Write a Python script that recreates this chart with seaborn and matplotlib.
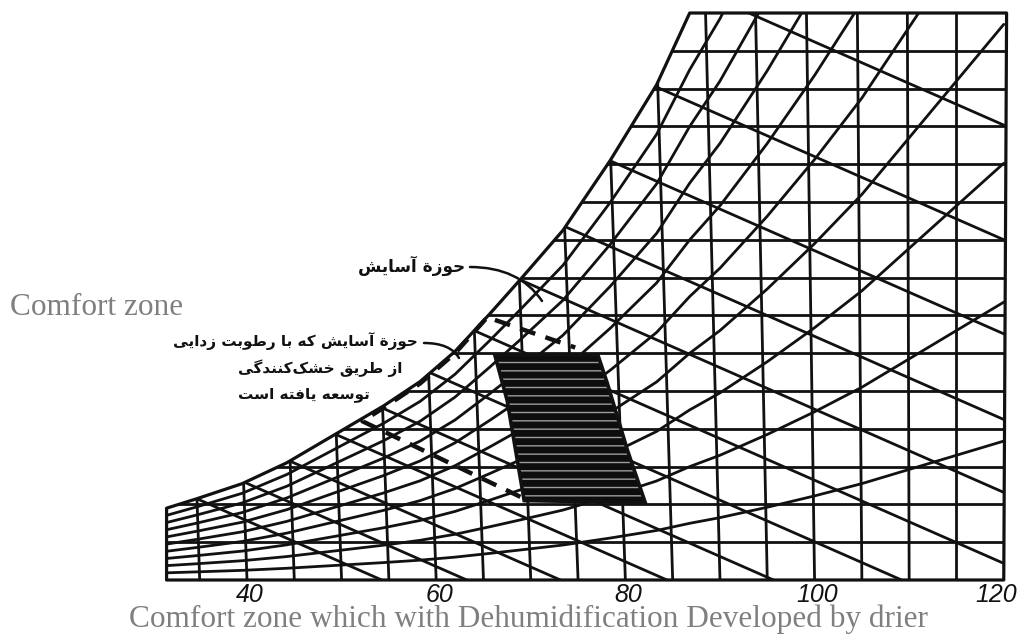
"""Psychrometric chart with the comfort zone and the zone widened by a desiccant drier."""

import matplotlib

matplotlib.use("Agg")

import matplotlib.pyplot as plt
import pandas as pd
import seaborn as sns
from matplotlib.patches import Polygon

# saturation curve (dry bulb F, humidity ratio lb/lb);
# the points past 87 F lie above the top edge and only feed the RH curves
SAT_TEMP = [31.5, 34.7, 39.5, 44.2, 49.3, 54.4, 58.3, 62.0, 65.7, 68.9, 73.4,
            78.4, 83.3, 86.8, 90.0, 95.0, 100.0, 105.0, 110.0, 115.0, 120.0]
SAT_HUM = [0.0038, 0.0043, 0.0051, 0.0062, 0.0077, 0.0092, 0.0105, 0.0121, 0.0141,
           0.0159, 0.0185, 0.0222, 0.0262, 0.0300, 0.0330, 0.0385, 0.0445, 0.0510,
           0.0585, 0.0660, 0.0735]
RH_LEVELS = [0.1, 0.2, 0.3, 0.4, 0.5, 0.6, 0.7, 0.8, 0.9]

# dry bulb lines and how far each one leans (F) at the top edge
DRYBULB_TEMPS = [35, 40, 45, 50, 55, 60, 65, 70, 75, 80, 85, 90, 95, 100, 105, 110, 115]
DRYBULB_LEAN = [-2.1, -2.2, -2.2, -2.3, -2.3, -2.3, -2.3, -2.4, -2.4, -2.2, -1.9, -1.6,
                -1.3, -0.9, -0.5, -0.2, 0.0]
HUMIDITY_LINES = [0.002, 0.004, 0.006, 0.008, 0.010, 0.012, 0.014, 0.016, 0.018,
                  0.020, 0.022, 0.024, 0.026, 0.028]
CHART_LEFT, CHART_RIGHT, CHART_TOP = 31.5, 120.0, 0.030
RIGHT_TOP_LEAN = 0.3

# wet bulb lines: where each leaves the saturation curve, and their common slope
WETBULB_START_T = [34.7, 39.6, 44.5, 49.4, 54.3, 59.2, 64.0, 68.8, 73.6, 78.3, 83.2, 88.5]
WETBULB_START_W = [0.0043, 0.0052, 0.0063, 0.0077, 0.0091, 0.0110, 0.0132, 0.0159,
                   0.0187, 0.0222, 0.0261, 0.0310]
WETBULB_SLOPE = -0.00022

# comfort zone (solid) and the zone extended by dehumidification (dashed)
COMFORT_T = [66.2, 77.1, 78.1, 80.2, 82.1, 69.3, 67.5]
COMFORT_W = [0.0119, 0.0119, 0.0104, 0.0069, 0.0041, 0.0042, 0.0095]
DRIER_T = [68.9, 52.2, 54.4, 58.3, 62.0, 65.4, 74.7]
DRIER_W = [0.0044, 0.0084, 0.0091, 0.0104, 0.0120, 0.0139, 0.0123]

TICK_TEMPS = [40, 60, 80, 100, 120]

FA_COMFORT = "حوزة آسایش"
FA_DRIER = ["حوزة آسایش که با رطوبت زدایی", "از طریق خشک\u200cکنندگی", "توسعه یافته است"]
EN_COMFORT = "Comfort zone"
EN_DRIER = "Comfort zone which with Dehumidification Developed by drier"

# Arabic presentation forms: isolated, final, initial, medial
FORMS = {
    "ا": ("\uFE8D", "\uFE8E", None, None),
    "آ": ("\uFE81", "\uFE82", None, None),
    "ب": ("\uFE8F", "\uFE90", "\uFE91", "\uFE92"),
    "ت": ("\uFE95", "\uFE96", "\uFE97", "\uFE98"),
    "ة": ("\uFE93", "\uFE94", None, None),
    "ح": ("\uFEA1", "\uFEA2", "\uFEA3", "\uFEA4"),
    "خ": ("\uFEA5", "\uFEA6", "\uFEA7", "\uFEA8"),
    "د": ("\uFEA9", "\uFEAA", None, None),
    "ر": ("\uFEAD", "\uFEAE", None, None),
    "ز": ("\uFEAF", "\uFEB0", None, None),
    "س": ("\uFEB1", "\uFEB2", "\uFEB3", "\uFEB4"),
    "ش": ("\uFEB5", "\uFEB6", "\uFEB7", "\uFEB8"),
    "ط": ("\uFEC1", "\uFEC2", "\uFEC3", "\uFEC4"),
    "ع": ("\uFEC9", "\uFECA", "\uFECB", "\uFECC"),
    "ف": ("\uFED1", "\uFED2", "\uFED3", "\uFED4"),
    "ق": ("\uFED5", "\uFED6", "\uFED7", "\uFED8"),
    "ن": ("\uFEE5", "\uFEE6", "\uFEE7", "\uFEE8"),
    "ه": ("\uFEE9", "\uFEEA", "\uFEEB", "\uFEEC"),
    "و": ("\uFEED", "\uFEEE", None, None),
    "ک": ("\uFB8E", "\uFB8F", "\uFB90", "\uFB91"),
    "گ": ("\uFB92", "\uFB93", "\uFB94", "\uFB95"),
    "ی": ("\uFBFC", "\uFBFD", "\uFBFE", "\uFBFF"),
}
RIGHT_JOINING = set("اآدذرزژوة")

W_PX, H_PX = 1024, 637
LINE_W = 2.0
INK = "#111111"


def shape_rtl(text: str) -> str:
    """Join Persian letters and put them in visual (left to right) order."""
    out = []
    for i, ch in enumerate(text):
        if ch == "\u200c":
            continue
        if ch not in FORMS:
            out.append(ch)
            continue
        prev = text[i - 1] if i > 0 else ""
        nxt = text[i + 1] if i + 1 < len(text) else ""
        joins_prev = prev in FORMS and prev not in RIGHT_JOINING
        joins_next = nxt in FORMS and ch not in RIGHT_JOINING
        iso, fin, ini, med = FORMS[ch]
        if joins_prev and joins_next:
            out.append(med)
        elif joins_prev:
            out.append(fin)
        elif joins_next:
            out.append(ini)
        else:
            out.append(iso)
    return "".join(reversed(out))


def fig_px(x: float, y: float) -> tuple[float, float]:
    """Image pixel (origin top left) to 'figure pixels' (origin bottom left)."""
    return x, H_PX - y


def draw_family(ax, frame: pd.DataFrame, clip) -> None:
    """Draw one family of chart lines with seaborn and clip it to the chart."""
    before = len(ax.lines)
    sns.lineplot(data=frame, x="temp", y="hum", units="line", estimator=None,
                 sort=False, color=INK, lw=LINE_W, ax=ax, legend=False)
    for line in ax.lines[before:]:
        line.set_clip_path(clip)
        line.set_solid_capstyle("round")


sns.set_theme(style="white")
plt.rcParams["hatch.linewidth"] = 1.0

fig = plt.figure(figsize=(W_PX / 100, H_PX / 100), dpi=100)
ax = fig.add_axes([0, 0, 1, 1])
ax.set_xlim(13.89, 122.14)
ax.set_ylim(-0.003016, 0.030688)
ax.set_axis_off()

# chart outline: saturation curve up to the top edge, then the box
visible = [(t, w) for t, w in zip(SAT_TEMP, SAT_HUM) if w <= CHART_TOP]
outline = ([(CHART_LEFT, 0.0)] + visible
           + [(CHART_RIGHT + RIGHT_TOP_LEAN, CHART_TOP), (CHART_RIGHT, 0.0)])
region = Polygon(outline, closed=True, fill=False, edgecolor=INK,
                 lw=LINE_W + 0.3, joinstyle="round", zorder=3)
ax.add_patch(region)

drybulb = pd.DataFrame(
    [{"line": i, "temp": t + k * lean, "hum": k * CHART_TOP * 1.05}
     for i, (t, lean) in enumerate(zip(DRYBULB_TEMPS, DRYBULB_LEAN)) for k in (0, 1)]
)
draw_family(ax, drybulb, region)

humidity = pd.DataFrame(
    [{"line": i, "temp": t, "hum": w}
     for i, w in enumerate(HUMIDITY_LINES) for t in (CHART_LEFT - 1, CHART_RIGHT + 1)]
)
draw_family(ax, humidity, region)

rh = pd.DataFrame(
    [{"line": i, "temp": t, "hum": level * w}
     for i, level in enumerate(RH_LEVELS) for t, w in zip(SAT_TEMP, SAT_HUM)]
)
draw_family(ax, rh, region)

wetbulb = pd.DataFrame(
    [{"line": i, "temp": t - k * w / WETBULB_SLOPE, "hum": w - k * w}
     for i, (t, w) in enumerate(zip(WETBULB_START_T, WETBULB_START_W)) for k in (0, 1)]
)
draw_family(ax, wetbulb, region)

# comfort zone: dark block with light streaks
comfort_xy = list(zip(COMFORT_T, COMFORT_W))
ax.add_patch(Polygon(comfort_xy, closed=True, facecolor="#0d0d0d", edgecolor="#9c9c9c",
                     hatch="--", lw=0, zorder=4))
ax.add_patch(Polygon(comfort_xy, closed=True, fill=False, edgecolor=INK,
                     lw=2.6, zorder=5))

# comfort zone reached with the drier
ax.plot(DRIER_T, DRIER_W, color=INK, lw=3.2, ls=(0, (3.6, 2.4)),
        solid_capstyle="butt", zorder=5)

for t in TICK_TEMPS:
    last = t == TICK_TEMPS[-1]
    ax.text(t + (1.4 if last else 0.3), 0.066, str(t), transform=ax.get_xaxis_transform(),
            ha="right" if last else "center", va="center", fontsize=18, style="italic",
            family="Liberation Sans", color=INK)

fa_style = dict(xycoords="figure pixels", fontweight="bold", family="DejaVu Sans",
                color=INK, va="center", ha="right")
ax.annotate(shape_rtl(FA_COMFORT), xy=fig_px(465, 266), fontsize=12.2, **fa_style)
for text, (x, y) in zip(FA_DRIER, [(418, 341), (402, 368), (370, 395)]):
    ax.annotate(shape_rtl(text), xy=fig_px(x, y), fontsize=11, **fa_style)

leader = dict(arrowstyle="-", color=INK, lw=1.8, shrinkA=0, shrinkB=0)
ax.annotate("", xy=fig_px(542, 301), xytext=fig_px(470, 267), xycoords="figure pixels",
            arrowprops=dict(connectionstyle="angle3,angleA=0,angleB=-56", **leader))
ax.annotate("", xy=fig_px(459, 358), xytext=fig_px(424, 343), xycoords="figure pixels",
            arrowprops=dict(connectionstyle="angle3,angleA=0,angleB=-60", **leader))

en_style = dict(xycoords="figure pixels", fontsize=22.5, family="Liberation Serif",
                color="#7f7f7f", va="baseline", ha="left")
ax.annotate(EN_COMFORT, xy=fig_px(10, 315), **en_style)
ax.annotate(EN_DRIER, xy=fig_px(129, 627), **en_style)

fig.savefig("out.png", dpi=100)
